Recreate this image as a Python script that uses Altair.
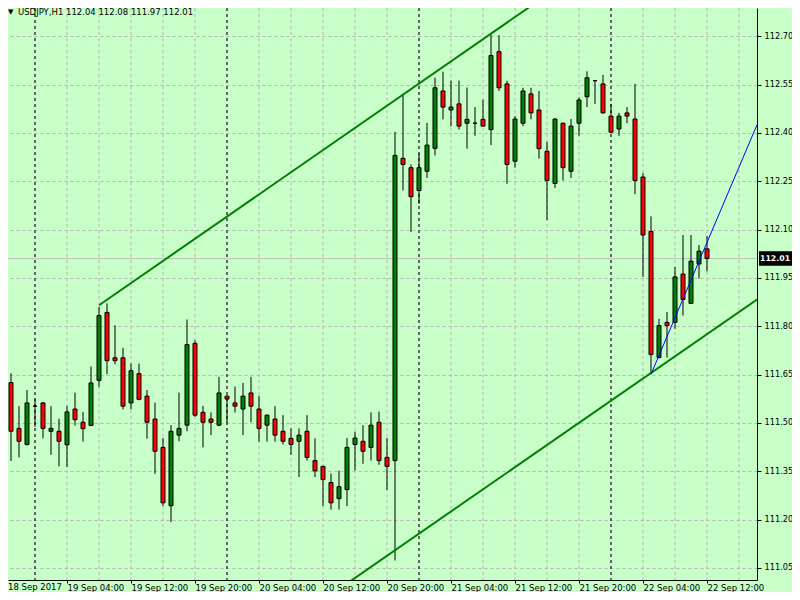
import altair as alt
import pandas as pd

# ---------------- data (USDJPY, H1) ----------------
opens = [
    111.552, 111.625, 111.483, 111.433, 111.552, 111.562, 111.474, 111.474, 111.432, 111.543,
    111.502, 111.492, 111.632, 111.843, 111.702, 111.702, 111.562, 111.653, 111.583, 111.512,
    111.424, 111.243, 111.462, 111.493, 111.747, 111.533, 111.512, 111.493, 111.583, 111.562,
    111.543, 111.593, 111.543, 111.493, 111.512, 111.474, 111.452, 111.443, 111.474, 111.383,
    111.365, 111.315, 111.265, 111.293, 111.433, 111.443, 111.424, 111.502, 111.393, 111.383,
    112.321, 112.292, 112.221, 112.281, 112.352, 112.530, 112.471, 112.490, 112.430, 112.430,
    112.442, 112.410, 112.652, 112.552, 112.312, 112.430, 112.521, 112.471, 112.343, 112.243,
    112.430, 112.281, 112.430, 112.512, 112.562, 112.552, 112.452, 112.412, 112.462, 112.443,
    112.263, 112.094, 111.703, 111.812, 111.812, 111.962, 111.871, 111.993, 112.040]
highs = [
    111.625, 111.654, 111.552, 111.602, 111.573, 111.565, 111.552, 111.513, 111.552, 111.594,
    111.534, 111.675, 111.860, 111.871, 111.803, 111.733, 111.684, 111.684, 111.602, 111.563,
    111.453, 111.493, 111.594, 111.821, 111.756, 111.553, 111.533, 111.643, 111.585, 111.613,
    111.624, 111.643, 111.584, 111.526, 111.552, 111.524, 111.483, 111.483, 111.524, 111.452,
    111.367, 111.343, 111.352, 111.453, 111.473, 111.493, 111.533, 111.535, 111.453, 112.403,
    112.521, 112.302, 112.335, 112.431, 112.571, 112.590, 112.562, 112.562, 112.541, 112.480,
    112.503, 112.705, 112.703, 112.562, 112.452, 112.540, 112.540, 112.530, 112.372, 112.445,
    112.432, 112.443, 112.510, 112.591, 112.562, 112.580, 112.490, 112.462, 112.480, 112.552,
    112.275, 112.141, 111.823, 111.844, 111.984, 112.083, 112.083, 112.052, 112.080]
lows = [
    111.523, 111.382, 111.393, 111.430, 111.488, 111.452, 111.401, 111.365, 111.363, 111.492,
    111.442, 111.490, 111.612, 111.651, 111.682, 111.542, 111.542, 111.570, 111.451, 111.342,
    111.242, 111.192, 111.443, 111.474, 111.519, 111.424, 111.462, 111.490, 111.500, 111.532,
    111.462, 111.502, 111.442, 111.442, 111.442, 111.433, 111.401, 111.332, 111.383, 111.332,
    111.242, 111.231, 111.231, 111.242, 111.352, 111.373, 111.383, 111.370, 111.292, 111.073,
    112.221, 112.092, 112.180, 112.260, 112.330, 112.442, 112.420, 112.410, 112.351, 112.391,
    112.420, 112.362, 112.530, 112.242, 112.292, 112.421, 112.442, 112.320, 112.129, 112.229,
    112.252, 112.260, 112.391, 112.480, 112.490, 112.460, 112.400, 112.391, 112.430, 112.210,
    111.953, 111.651, 111.700, 111.703, 111.792, 111.833, 111.870, 111.948, 111.970]
closes = [
    111.612, 111.474, 111.443, 111.562, 111.552, 111.483, 111.483, 111.443, 111.534, 111.510,
    111.482, 111.624, 111.833, 111.693, 111.693, 111.552, 111.662, 111.573, 111.502, 111.412,
    111.252, 111.474, 111.483, 111.743, 111.524, 111.502, 111.502, 111.593, 111.574, 111.552,
    111.583, 111.552, 111.483, 111.524, 111.462, 111.443, 111.433, 111.462, 111.393, 111.351,
    111.324, 111.252, 111.302, 111.424, 111.453, 111.412, 111.493, 111.383, 111.365, 112.330,
    112.302, 112.202, 112.292, 112.362, 112.540, 112.480, 112.480, 112.421, 112.442, 112.430,
    112.421, 112.640, 112.540, 112.302, 112.443, 112.530, 112.462, 112.351, 112.252, 112.443,
    112.292, 112.421, 112.502, 112.571, 112.562, 112.462, 112.402, 112.452, 112.452, 112.252,
    112.083, 111.712, 111.802, 111.802, 111.953, 111.883, 112.002, 112.033, 112.010]

time_labels = ["18 Sep 2017", "19 Sep 04:00", "19 Sep 12:00", "19 Sep 20:00",
               "20 Sep 04:00", "20 Sep 12:00", "20 Sep 20:00", "21 Sep 04:00",
               "21 Sep 12:00", "21 Sep 20:00", "22 Sep 04:00", "22 Sep 12:00"]
label_bars = [0, 8, 16, 24, 32, 40, 48, 56, 64, 72, 80, 88]
price_ticks = [111.05, 111.20, 111.35, 111.50, 111.65, 111.80,
               111.95, 112.10, 112.25, 112.40, 112.55, 112.70]
day_separator_bars = [4, 28, 52, 76]
grid_bars = list(range(4, 96, 4))

channel_id = ["upper", "upper", "lower", "lower"]
channel_bar = [12, 67, 40, 94.25]
channel_price = [111.865, 112.811, 110.950, 111.883]

trend_bar = [81, 94.25]
trend_price = [111.651, 112.425]

last_price = 112.01
header = "USDJPY,H1 112.04 112.08 111.97 112.01"

# ---------------- layout ----------------
W, H = 749, 572
X_DOMAIN = [0.625, 94.25]
Y_DOMAIN = [111.0125, 112.7875]
BG = "#c8ffc8"
FONT = "DejaVu Sans"
FS = 8.5
AFS = 8.2

xs = alt.Scale(domain=X_DOMAIN, nice=False, zero=False, padding=0)
ys = alt.Scale(domain=Y_DOMAIN, nice=False, zero=False, padding=0)

n = len(opens)
df = pd.DataFrame({"bar": list(range(n)), "open": opens, "high": highs,
                   "low": lows, "close": closes})
df["dir"] = ["up" if c >= o else "down" for o, c in zip(opens, closes)]

label_expr = "[" + ",".join("'%s'" % s for s in time_labels) + "][round(datum.value/8)]"

x_axis = alt.Axis(values=label_bars[1:], labelExpr=label_expr, orient="bottom",
                  labelAlign="left", labelBaseline="top", labelPadding=0,
                  tickSize=3, tickColor="black", domainColor="black",
                  labelColor="black", labelFont=FONT, labelFontSize=FS,
                  grid=False, title=None, labelOverlap=False, labelFlush=False)
y_axis = alt.Axis(values=price_ticks, format=".2f", orient="right",
                  tickSize=4, tickColor="black", domainColor="black",
                  labelColor="black", labelFont=FONT, labelFontSize=AFS,
                  labelPadding=3, grid=True, gridDash=[3, 3], gridColor="#b4b4b4",
                  title=None, labelOverlap=False, labelFlush=False)


def X(field):
    return alt.X(field, scale=xs, axis=x_axis)


def Y(field):
    return alt.Y(field, scale=ys, axis=y_axis)


vgrid = alt.Chart(pd.DataFrame({"bar": grid_bars})).mark_rule(
    color="#b4b4b4", strokeDash=[3, 3], strokeWidth=1, clip=True
).encode(x=X("bar:Q"))

seps = alt.Chart(pd.DataFrame({"bar": day_separator_bars})).mark_rule(
    color="black", strokeDash=[3, 3], strokeWidth=1, clip=True
).encode(x=X("bar:Q"))

price_line = alt.Chart(pd.DataFrame({"p": [last_price]})).mark_rule(
    color="#c0c0c0", strokeWidth=1
).encode(y=Y("p:Q"))

wicks = alt.Chart(df).mark_rule(color="black", strokeWidth=1, clip=True).encode(
    x=X("bar:Q"), y=Y("low:Q"), y2="high:Q",
)

bodies = alt.Chart(df).mark_bar(size=4, stroke="black", strokeWidth=1,
                                orient="vertical", clip=True).encode(
    x=X("bar:Q"), y=Y("open:Q"), y2="close:Q",
    color=alt.Color("dir:N", scale=alt.Scale(domain=["up", "down"],
                                             range=["#008000", "#ff0000"]),
                    legend=None),
)

channel = alt.Chart(pd.DataFrame({"id": channel_id, "bar": channel_bar,
                                  "p": channel_price})).mark_line(
    color="#008000", strokeWidth=2, clip=True
).encode(x=X("bar:Q"), y=Y("p:Q"), detail="id:N")

trend = alt.Chart(pd.DataFrame({"bar": trend_bar, "p": trend_price})).mark_line(
    color="#0000ff", strokeWidth=1, clip=True
).encode(x=X("bar:Q"), y=Y("p:Q"))

box = alt.Chart(pd.DataFrame({"p": [last_price]})).transform_calculate(
    lo="datum.p - 0.0225", hi="datum.p + 0.0225"
).mark_rect(color="black").encode(
    x=alt.value(W + 2), x2=alt.value(W + 35),
    y=Y("lo:Q"), y2="hi:Q")

box_text = alt.Chart(pd.DataFrame({"p": [last_price]})).mark_text(
    color="white", align="left", baseline="middle", font=FONT, fontSize=7.8,
    fontWeight="bold"
).encode(x=alt.value(W + 3), y=Y("p:Q"),
         text=alt.Text("p:Q", format=".2f"))

head = alt.Chart(pd.DataFrame({"t": [header]})).mark_text(
    align="left", baseline="middle", font=FONT, fontSize=FS, color="black"
).encode(x=alt.value(10), y=alt.value(4), text="t:N")

tri = alt.Chart(pd.DataFrame({"t": ["\u25BC"]})).mark_text(
    align="left", baseline="middle", font=FONT, fontSize=7, color="black"
).encode(x=alt.value(0), y=alt.value(4), text="t:N")

first_label = alt.Chart(pd.DataFrame({"t": [time_labels[0]]})).mark_text(
    align="left", baseline="top", font=FONT, fontSize=FS, color="black"
).encode(x=alt.value(0), y=alt.value(H + 3), text="t:N")

chart = alt.layer(
    vgrid, seps, price_line, wicks, bodies, channel, trend,
    box, box_text, head, tri, first_label
).properties(
    width=W, height=H, background=BG,
    autosize=alt.AutoSizeParams(type="none"),
    padding={"left": 0, "top": 0, "right": 35, "bottom": 12},
).configure_view(stroke=None)

chart.save("out.html", embed_options={"renderer": "svg", "actions": False})
